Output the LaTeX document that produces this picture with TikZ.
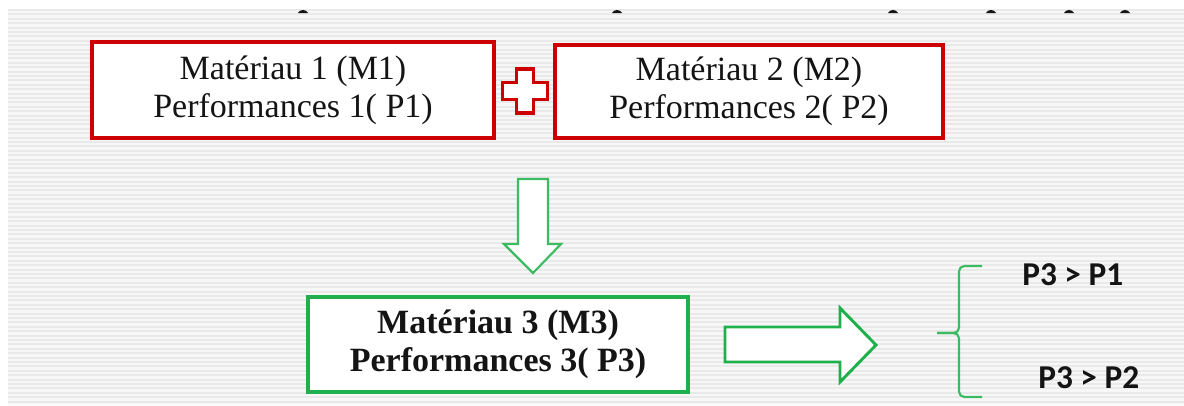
\documentclass[tikz,border=0pt]{standalone}
\usepackage{fontspec}
\setmainfont{Liberation Serif}
\newfontfamily\calfont{Carlito}
\definecolor{boxred}{HTML}{CC0000}
\definecolor{boxgreen}{HTML}{1FAF4B}
\definecolor{lightgreen}{HTML}{3DBB63}
\definecolor{stripe}{HTML}{E9E9E9}
\definecolor{stripebase}{HTML}{F7F7F7}
\definecolor{ink}{HTML}{141414}
\begin{document}
\begin{tikzpicture}[x=0.75pt,y=-0.75pt,
  redbox/.style={draw=boxred,line width=2.4pt,fill=white,minimum width=402*0.75pt,minimum height=96*0.75pt,
    inner sep=0pt,align=center,font=\fontsize{25.5}{28.5}\selectfont,text=ink},
  greenbox/.style={draw=boxgreen,line width=2.4pt,fill=white,minimum width=380*0.75pt,minimum height=95*0.75pt,
    inner sep=0pt,align=center,font=\fontsize{25.5}{28.5}\selectfont\bfseries,text=ink},
  blockarrow/.style={draw=boxgreen,line width=2.2pt,fill=white,line join=miter},
  bracket/.style={draw=lightgreen,line width=1.6pt,rounded corners=4pt},
  relation/.style={font=\calfont\bfseries\fontsize{25}{28}\selectfont,text=ink,inner sep=0pt},
  topmark/.style={fill=ink}]
\useasboundingbox (0,0) rectangle (1184,405);
\fill[white] (0,0) rectangle (1184,405);
% striped backdrop
\fill[stripebase] (8,9) rectangle (1184,405);
\foreach \i in {0,...,89}
  \fill[stripe] (8,{9+\i*4.4}) rectangle (1184,{9+\i*4.4+2});
% clipped letter feet along the top edge
\foreach \mx in {303,617,893,991,1069,1125}
  \fill[topmark] (\mx-5,13) .. controls (\mx-3,9) and (\mx+3,9) .. (\mx+5,13) -- cycle;

% materials
\node[redbox] (m1) at (293,90) {Matériau 1 (M1)\\Performances 1( P1)};
\node[redbox,minimum width=388*0.75pt,minimum height=93*0.75pt] (m2) at (749,91.5) {Matériau 2 (M2)\\Performances 2( P2)};
\node[greenbox] (m3) at (498,344.5) {Matériau 3 (M3)\\Performances 3( P3)};

% plus sign between the two materials
\coordinate (plus) at (525,91);
\draw[draw=boxred,line width=2.4pt,fill=white]
  ([shift={(-8.5,-22)}]plus) -- ([shift={(8.5,-22)}]plus) -- ([shift={(8.5,-8.5)}]plus)
  -- ([shift={(22.5,-8.5)}]plus) -- ([shift={(22.5,8.5)}]plus) -- ([shift={(8.5,8.5)}]plus)
  -- ([shift={(8.5,22)}]plus) -- ([shift={(-8.5,22)}]plus) -- ([shift={(-8.5,8.5)}]plus)
  -- ([shift={(-22.5,8.5)}]plus) -- ([shift={(-22.5,-8.5)}]plus) -- ([shift={(-8.5,-8.5)}]plus) -- cycle;

% downward block arrow
\draw[blockarrow,draw=lightgreen,line width=1.6pt]
  (518,179) -- (548,179) -- (548,244) -- (561,244) -- (533,273) -- (504,244) -- (518,244) -- cycle;

% rightward block arrow
\draw[blockarrow]
  (725,327) -- (840,327) -- (840,308) -- (876,345) -- (840,382) -- (840,362) -- (725,362) -- cycle;

% bracket and results
\coordinate (btop) at (982,266);
\coordinate (bbot) at (982,397);
\coordinate (btip) at (937,333);
\draw[bracket] (btop) -- (959,266) -- (959,333) -- (btip);
\draw[bracket] (btip) -- (959,333) -- (959,397) -- (bbot);
\node[relation,anchor=west] (r1) at (1022,275) {P3 > P1};
\node[relation,anchor=west] (r2) at (1038,378) {P3 > P2};
\end{tikzpicture}
\end{document}
